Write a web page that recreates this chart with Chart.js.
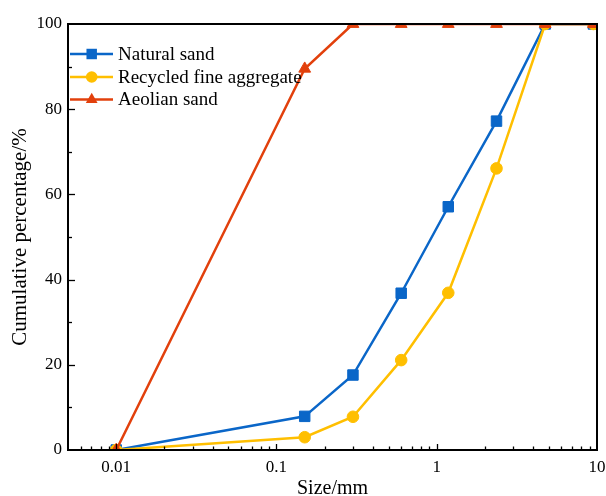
<!DOCTYPE html>
<html>
<head>
<meta charset="utf-8">
<script src="https://cdn.jsdelivr.net/npm/chart.js@4/dist/chart.umd.min.js"></script>
<style>html,body{margin:0;padding:0;background:#fff;}canvas{display:block;}</style>
</head>
<body>
<canvas id="c" width="606" height="496"></canvas>
<script>
// ---- data ----
const sizes = [0.01, 0.15, 0.3, 0.6, 1.18, 2.36, 4.75, 9.5];
const naturalSand = [0, 7.9, 17.6, 36.8, 57.1, 77.2, 100, 100];
const recycledFine = [0, 3.0, 7.8, 21.1, 36.9, 66.1, 100, 100];
const aeolianSand = [0, 89.5, 100, 100, 100, 100, 100, 100];
const seriesNames = ['Natural sand', 'Recycled fine aggregate', 'Aeolian sand'];
const xTickValues = [0.01, 0.1, 1, 10];
const xTickLabels = ['0.01', '0.1', '1', '10'];
const yTickValues = [0, 20, 40, 60, 80, 100];
const xTitle = 'Size/mm';
const yTitle = 'Cumulative percentage/%';

const FONT = "'Liberation Serif', 'Times New Roman', serif";
const BLUE = '#0A66C8', YELLOW = '#FFBF00', RED = '#E2400C';

function pts(arr) { return sizes.map((s, i) => ({x: s, y: arr[i]})); }

const frameTicks = {
  id: 'frameTicks',
  afterDatasetsDraw(chart) {
    const ctx = chart.ctx, a = chart.chartArea;
    const xs = chart.scales.x, ys = chart.scales.y;
    ctx.save();
    ctx.strokeStyle = '#000';
    ctx.lineWidth = 1.3;
    for (let d = 0.001; d < 20; d *= 10) {
      for (let k = 1; k <= 9; k++) {
        const v = k * d;
        if (v < xs.min * 1.0001 || v > xs.max * 0.9999) continue;
        const px = Math.round(xs.getPixelForValue(v)) + 0.5;
        const len = (k === 1) ? 6 : 3.5;
        ctx.beginPath(); ctx.moveTo(px, a.bottom); ctx.lineTo(px, a.bottom - len); ctx.stroke();
      }
    }
    for (let v = 0; v <= 100; v += 10) {
      if (v === 0 || v === 100) continue;
      const py = Math.round(ys.getPixelForValue(v)) + 0.5;
      const len = (v % 20 === 0) ? 7 : 4;
      ctx.beginPath(); ctx.moveTo(a.left, py); ctx.lineTo(a.left + len, py); ctx.stroke();
    }
    ctx.lineWidth = 2;
    ctx.strokeRect(a.left, a.top, a.right - a.left, a.bottom - a.top);
    ctx.restore();
  },
  afterDraw(chart) {
    const ctx = chart.ctx;
    const rows = [54, 77, 99.5];
    const x0 = 70, x1 = 113, xm = 91.7, xt = 118;
    ctx.save();
    chart.data.datasets.forEach((ds, i) => {
      const y = rows[i];
      ctx.strokeStyle = ds.borderColor; ctx.lineWidth = ds.borderWidth;
      ctx.beginPath(); ctx.moveTo(x0, y); ctx.lineTo(x1, y); ctx.stroke();
      ctx.fillStyle = ds.pointBackgroundColor;
      const r = ds.pointRadius;
      ctx.beginPath();
      if (ds.pointStyle === 'rect') {
        const s = r * Math.SQRT1_2;
        ctx.rect(xm - s, y - s, 2 * s, 2 * s);
      } else if (ds.pointStyle === 'circle') {
        ctx.arc(xm, y, r, 0, Math.PI * 2);
      } else {
        for (let k = 0; k < 3; k++) {
          const ang = k * 2 * Math.PI / 3;
          const px = xm + Math.sin(ang) * r, py = y - Math.cos(ang) * r;
          if (k === 0) ctx.moveTo(px, py); else ctx.lineTo(px, py);
        }
        ctx.closePath();
      }
      ctx.fill();
      ctx.fillStyle = '#000';
      ctx.font = '19px ' + FONT;
      ctx.textAlign = 'left'; ctx.textBaseline = 'middle';
      ctx.fillText(ds.label, xt, y + 1);
    });
    ctx.restore();
  }
};

function mkDs(label, arr, color, style, r, order) {
  return {
    label, data: pts(arr), borderColor: color, backgroundColor: color,
    pointBackgroundColor: color, pointBorderColor: color, pointBorderWidth: 1,
    borderWidth: 2.5, pointStyle: style, pointRadius: r, pointHoverRadius: r,
    tension: 0, clip: 0, order
  };
}

new Chart(document.getElementById('c'), {
  type: 'line',
  data: {
    datasets: [
      mkDs(seriesNames[0], naturalSand, BLUE, 'rect', 7.4, 3),
      mkDs(seriesNames[1], recycledFine, YELLOW, 'circle', 5.8, 2),
      mkDs(seriesNames[2], aeolianSand, RED, 'triangle', 6.8, 1)
    ]
  },
  options: {
    responsive: false,
    animation: false,
    events: [],
    layout: { padding: { top: 24, right: 9, left: 0, bottom: 0 } },
    plugins: { legend: { display: false }, tooltip: { enabled: false } },
    scales: {
      x: {
        type: 'logarithmic', min: 0.005, max: 10,
        grid: { display: false, drawTicks: false },
        border: { display: false },
        afterBuildTicks: (s) => { s.ticks = xTickValues.map(v => ({value: v})); },
        afterFit: (s) => { s.height = 46; s.paddingLeft = 0; s.paddingRight = 0; },
        ticks: {
          autoSkip: false, maxRotation: 0, padding: 7, color: '#000',
          font: { family: FONT, size: 17 },
          callback: (v) => { const i = xTickValues.findIndex(t => Math.abs(t - v) / t < 1e-6); return i >= 0 ? xTickLabels[i] : ''; }
        },
        title: { display: true, text: xTitle, color: '#000', font: { family: FONT, size: 20, lineHeight: 1 }, padding: { top: 0, bottom: -3 } }
      },
      y: {
        min: 0, max: 100,
        grid: { display: false, drawTicks: false },
        border: { display: false },
        afterBuildTicks: (s) => { s.ticks = yTickValues.map(v => ({value: v})); },
        afterFit: (s) => { s.width = 68; s.paddingTop = 0; s.paddingBottom = 0; },
        ticks: { padding: 6, color: '#000', font: { family: FONT, size: 17 } },
        title: { display: true, text: yTitle, color: '#000', font: { family: FONT, size: 21, lineHeight: 1.2 }, padding: { top: 8, bottom: 0 } }
      }
    }
  },
  plugins: [frameTicks]
});
</script>
</body>
</html>
